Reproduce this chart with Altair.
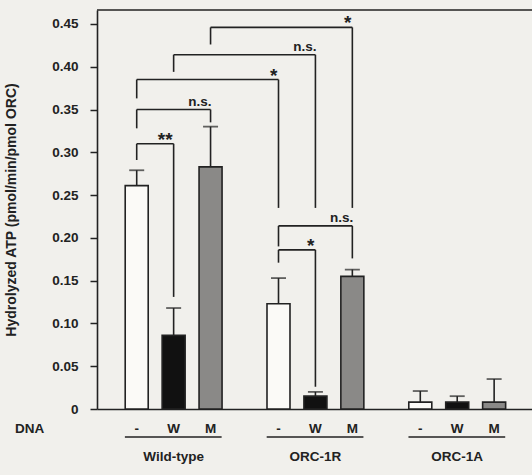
import altair as alt
import pandas as pd

# ATPase activity of ORC variants with and without DNA
groups = ["Wild-type", "ORC-1R", "ORC-1A"]
dna = ["-", "W", "M"]
atp_mean = [0.261, 0.086, 0.283, 0.123, 0.015, 0.155, 0.008, 0.008, 0.008]
atp_upper = [0.279, 0.118, 0.330, 0.153, 0.020, 0.163, 0.021, 0.015, 0.035]

# significance brackets: bars compared, bracket height, leg bottoms, label
br_left = [0, 0, 0, 1, 2, 3, 3]
br_right = [1, 2, 3, 4, 5, 5, 4]
br_height = [0.310, 0.350, 0.385, 0.414, 0.446, 0.214, 0.186]
br_left_bottom = [0.291, 0.328, 0.363, 0.394, 0.426, 0.190, 0.171]
br_right_bottom = [0.131, 0.335, 0.235, 0.235, 0.235, 0.176, 0.026]
br_label = ["**", "n.s.", "*", "n.s.", "*", "n.s.", "*"]

W, H = 435, 399
YMAX = 0.4663
GROUP_STEP = 3.84
INK = "#222222"
FONT = "Liberation Sans"
FS = 13.5
fill_for = {"-": "#fbfaf7", "W": "#111111", "M": "#8a8987"}

rows = []
for g, grp in enumerate(groups):
    for i, d in enumerate(dna):
        k = g * 3 + i
        rows.append({"group": grp, "dna": d, "pos": g * GROUP_STEP + i,
                     "mean": atp_mean[k], "upper": atp_upper[k]})
bars = pd.DataFrame(rows)

pos = bars["pos"].tolist()
brk = pd.DataFrame({
    "xl": [pos[a] for a in br_left],
    "xr": [pos[b] for b in br_right],
    "h": br_height,
    "lb": br_left_bottom,
    "rb": br_right_bottom,
    "label": br_label,
    "star": [lab.startswith("*") for lab in br_label],
})

grp_df = pd.DataFrame({
    "group": groups,
    "start": [g * GROUP_STEP - 0.32 for g in range(len(groups))],
    "end": [g * GROUP_STEP + 2.3 for g in range(len(groups))],
    "mid": [g * GROUP_STEP + 1 for g in range(len(groups))],
})

x_scale = alt.Scale(domain=[-0.94, 10.57], nice=False, zero=False)
y_scale = alt.Scale(domain=[0, YMAX], nice=False)

x_enc = alt.X("pos:Q", scale=x_scale,
              axis=alt.Axis(title=None, labels=False, ticks=False, grid=False,
                            domainColor=INK, domainWidth=1.6))
y_enc = alt.Y("mean:Q", scale=y_scale,
              axis=alt.Axis(title="Hydrolyzed ATP (pmol/min/pmol ORC)",
                            values=[0, 0.05, 0.10, 0.15, 0.20, 0.25, 0.30, 0.35, 0.40, 0.45],
                            labelExpr="datum.value == 0 ? '0' : format(datum.value, '.2f')",
                            grid=False, tickSize=7, tickColor=INK, tickWidth=1.5,
                            domainColor=INK, domainWidth=1.6, labelPadding=12,
                            labelFont=FONT, labelFontWeight="bold", labelFontSize=FS,
                            labelColor=INK, titleFont=FONT, titleFontWeight="bold",
                            titleFontSize=14, titleColor=INK, titleX=-79))

base = alt.Chart(bars)

bar_layer = base.mark_bar(size=23, stroke=INK, strokeWidth=1.6).encode(
    x=x_enc, y=y_enc,
    fill=alt.Fill("dna:N", scale=alt.Scale(domain=list(fill_for), range=list(fill_for.values())),
                  legend=None),
)

err_line = base.mark_rule(color=INK, strokeWidth=1.6).encode(
    x="pos:Q", y="mean:Q", y2="upper:Q")
err_cap = base.mark_tick(orient="horizontal", size=15, thickness=1.8, color=INK).encode(
    x="pos:Q", y="upper:Q")

bb = alt.Chart(brk)
br_h = bb.mark_rule(color=INK, strokeWidth=1.6).encode(x="xl:Q", x2="xr:Q", y="h:Q")
br_l = bb.mark_rule(color=INK, strokeWidth=1.6).encode(x="xl:Q", y="lb:Q", y2="h:Q")
br_r = bb.mark_rule(color=INK, strokeWidth=1.6).encode(x="xr:Q", y="rb:Q", y2="h:Q")
br_ns = bb.transform_filter("!datum.star").mark_text(
    align="right", baseline="bottom", dx=1, dy=-1, font=FONT, fontWeight="bold",
    fontSize=FS, color=INK).encode(x="xr:Q", y="h:Q", text="label:N")
br_star = bb.transform_filter("datum.star").mark_text(
    align="right", baseline="alphabetic", dx=-1, dy=2, font=FONT, fontWeight="bold",
    fontSize=19, color=INK).encode(x="xr:Q", y="h:Q", text="label:N")

top_line = alt.Chart(pd.DataFrame({"top": [YMAX]})).mark_rule(
    color=INK, strokeWidth=1.6).encode(y="top:Q")

dna_labels = base.mark_text(font=FONT, fontWeight="bold", fontSize=FS, color=INK,
                            baseline="middle").encode(
    x="pos:Q", y=alt.value(H + 20), text="dna:N")
dna_title = alt.Chart(pd.DataFrame({"t": ["DNA"]})).mark_text(
    font=FONT, fontWeight="bold", fontSize=FS, color=INK, align="left",
    baseline="middle").encode(x=alt.value(-82), y=alt.value(H + 20), text="t:N")

gg = alt.Chart(grp_df)
grp_lines = gg.mark_rule(color=INK, strokeWidth=1.6).encode(
    x="start:Q", x2="end:Q", y=alt.value(H + 28))
grp_labels = gg.mark_text(font=FONT, fontWeight="bold", fontSize=FS, color=INK,
                          baseline="middle").encode(
    x="mid:Q", y=alt.value(H + 48), text="group:N")

chart = alt.layer(
    bar_layer, err_line, err_cap, br_h, br_l, br_r, br_ns, br_star, top_line,
    dna_labels, dna_title, grp_lines, grp_labels,
).properties(
    width=W, height=H,
    autosize=alt.AutoSizeParams(type="none"),
    padding={"left": 97, "top": 10, "right": 0, "bottom": 66},
    background="#f1f0ec",
).configure_view(stroke=None)

chart.save("out.html", embed_options={"renderer": "svg", "actions": False})
